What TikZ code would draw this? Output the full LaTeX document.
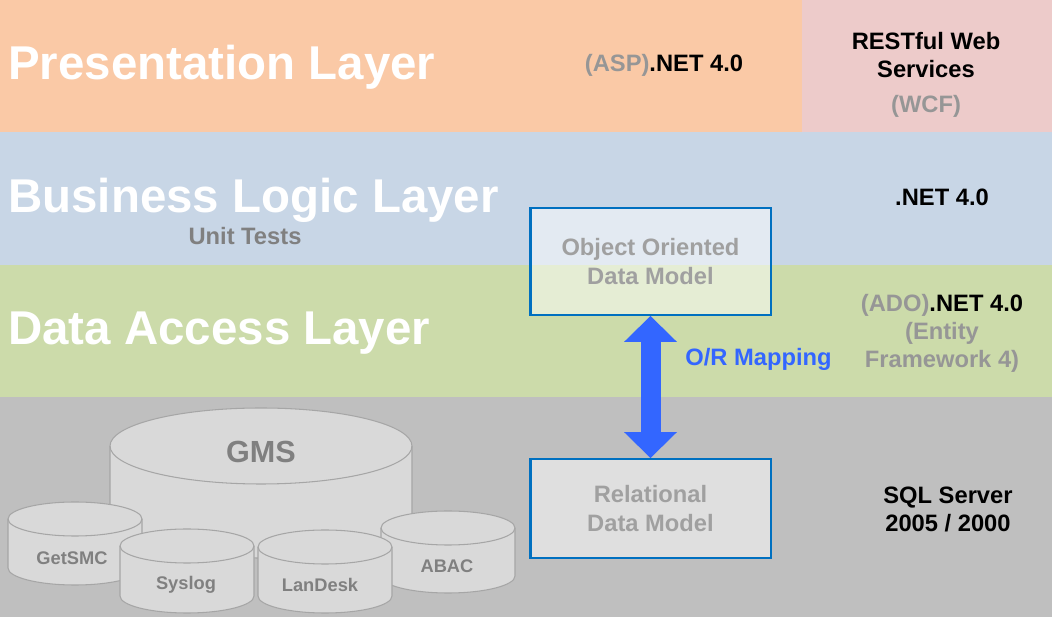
\documentclass[tikz,border=0pt]{standalone}
\usepackage{fontspec}
\setmainfont{Liberation Sans}
\usetikzlibrary{positioning,arrows.meta}
\definecolor{cOrange}{HTML}{FAC9A6}
\definecolor{cRose}{HTML}{EDCBCA}
\definecolor{cSky}{HTML}{C8D6E6}
\definecolor{cMoss}{HTML}{CCDBAA}
\definecolor{cStone}{HTML}{BFBFBF}
\definecolor{cCyl}{HTML}{D9D9D9}
\definecolor{cCylLine}{HTML}{A6A6A6}
\definecolor{cLbl}{HTML}{808080}
\definecolor{cDim}{HTML}{969696}
\definecolor{cModelTxt}{HTML}{A0A0A0}
\definecolor{cFrame}{HTML}{0070C0}
\definecolor{cMap}{HTML}{3366FF}
\tikzset{
  layer/.style={anchor=base west,text=white,font=\fontsize{27}{32}\selectfont\bfseries,inner sep=0pt},
  tech/.style={font=\fontsize{13.5}{16}\selectfont\bfseries,inner sep=0pt,align=center},
  model/.style={draw=cFrame,line width=1.4pt,fill=white,fill opacity=0.5,text opacity=1,text=cModelTxt,
    minimum width=4.81cm,font=\fontsize{13.5}{16}\selectfont\bfseries,align=center},
  dbcyl/.style={fill=cCyl,draw=cCylLine,line width=0.6pt},
  dblabel/.style={text=cLbl,font=\fontsize{10.4}{12}\selectfont\bfseries,inner sep=0pt},
  mapping/.style={line width=0.4cm,cMap,{Triangle[width=1.06cm,length=0.52cm,line width=0pt]}-{Triangle[width=1.06cm,length=0.52cm,line width=0pt]}},
}
\begin{document}
\begin{tikzpicture}[x=0.02cm,y=-0.02cm]
  \useasboundingbox (0,0) rectangle (1052,617);
  % layer bands
  \fill[cOrange] (0,0) rectangle (802,132.5);
  \fill[cRose] (802,0) rectangle (1052,132.5);
  \fill[cSky] (0,132.5) rectangle (1052,265);
  \fill[cMoss] (0,265) rectangle (1052,397.5);
  \fill[cStone] (0,397.5) rectangle (1052,617);
  \node[layer] (pres) at (8,80) {Presentation Layer};
  \node[layer] (bll) at (8,213) {Business Logic Layer};
  \node[layer] (dal) at (8,345) {Data Access Layer};
  \node[tech,anchor=base,text=cLbl] (tests) at (245,245) {Unit Tests};
  % technologies (base = last line)
  \node[tech,anchor=base] (asp) at (664,72) {\textcolor{cDim}{(ASP)}.NET 4.0};
  \node[tech,anchor=base] (rest) at (926,113) {RESTful Web\\Services\\[4pt]\textcolor{cDim}{(WCF)}};
  \node[tech,anchor=base] (net) at (942,206) {.NET 4.0};
  \node[tech,anchor=base] (ado) at (942,368) {\textcolor{cDim}{(ADO)}.NET 4.0\\\textcolor{cDim}{(Entity}\\\textcolor{cDim}{Framework 4)}};
  \node[tech,anchor=base] (sql) at (948,532) {SQL Server\\2005 / 2000};
  % databases
  \foreach \xl/\xr/\yt/\yb/\ry in {110/412/446/520/38, 8/142/519/568/17, 381/515/528/576/17,
      120/254/546/596/17, 258/392/547/596/17}{
    \filldraw[dbcyl] (\xl,\yt) -- (\xl,\yb)
      arc[start angle=180,end angle=0,x radius={(\xr-\xl)/2},y radius=\ry] -- (\xr,\yt)
      arc[start angle=0,end angle=-180,x radius={(\xr-\xl)/2},y radius=\ry] -- cycle;
    \draw[dbcyl,fill=none] (\xl,\yt) arc[start angle=180,end angle=0,x radius={(\xr-\xl)/2},y radius=\ry];
  }
  \node[dblabel,font=\fontsize{17.4}{20}\selectfont\bfseries] (gms) at (261,452) {GMS};
  \node[dblabel] (getsmc) at (72,558) {GetSMC};
  \node[dblabel] (syslog) at (186,585) {Syslog};
  \node[dblabel] (landesk) at (320,585) {LanDesk};
  \node[dblabel] (abac) at (447,566) {ABAC};
  % data models
  \node[model,minimum height=2.13cm] (oodm) at (650.5,261.5) {Object Oriented\\Data Model};
  \node[model,minimum height=1.97cm] (rdm) at (650.5,508.5) {Relational\\Data Model};
  \draw[mapping] (oodm.south) -- (rdm.north);
  \node[tech,anchor=base west,text=cMap] (orm) at (685,366) {O/R Mapping};
\end{tikzpicture}
\end{document}
